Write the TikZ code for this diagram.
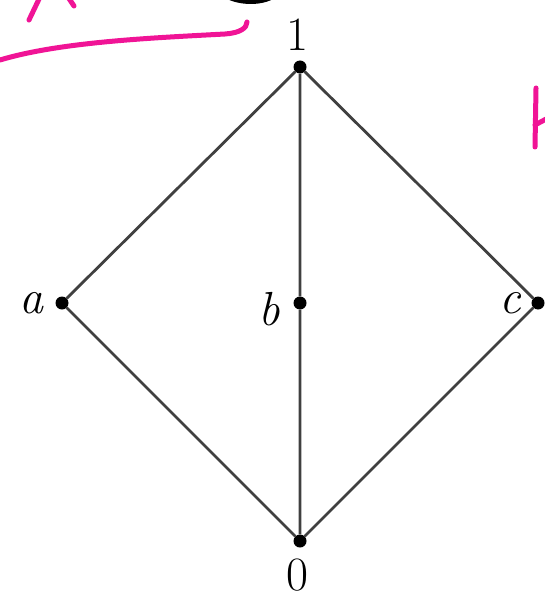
\documentclass[tikz,border=0pt]{standalone}
\begin{document}
\begin{tikzpicture}[x=1bp,y=-1bp,
  vert/.style={circle,fill=black,inner sep=0pt,minimum size=13bp},
  edge/.style={draw=black!75,line width=2.8bp},
  lbl/.style={font=\fontsize{48}{58}\selectfont,inner sep=0pt},
  ink/.style={draw={rgb,255:red,240;green,20;blue,150},line width=5bp,line cap=round}]
\useasboundingbox (0,0) rectangle (545,600);
\node[vert] (one) at (300,67) {};
\node[vert] (a) at (62,303) {};
\node[vert] (b) at (300,303) {};
\node[vert] (c) at (538,303) {};
\node[vert] (zero) at (300,541) {};
\draw[edge] (one) -- (a) -- (zero) -- (c) -- (one) -- (b) -- (zero);
\node[lbl] (l1) at (297,35) {1};
\node[lbl] (l0) at (297,575) {0};
\node[lbl] (la) at (32,303) {\textit{a}};
\node[lbl] (lb) at (269,309) {\textit{b}};
\node[lbl] (lc) at (511,303) {\textit{c}};
% handwritten marks
\draw[ink] (0,60) .. controls (60,42) and (150,38) .. (225,34) .. controls (240,33) and (247,28) .. (247,22);
\draw[ink] (29,20) -- (40,-3);
\draw[ink] (68,-3) -- (74,6);
\draw[ink] (536,88) -- (535,147);
\draw[ink] (535,125) -- (548,118);
\fill[black] (225,-2) .. controls (240,6) and (262,6) .. (275,-2) -- cycle;
\end{tikzpicture}
\end{document}
